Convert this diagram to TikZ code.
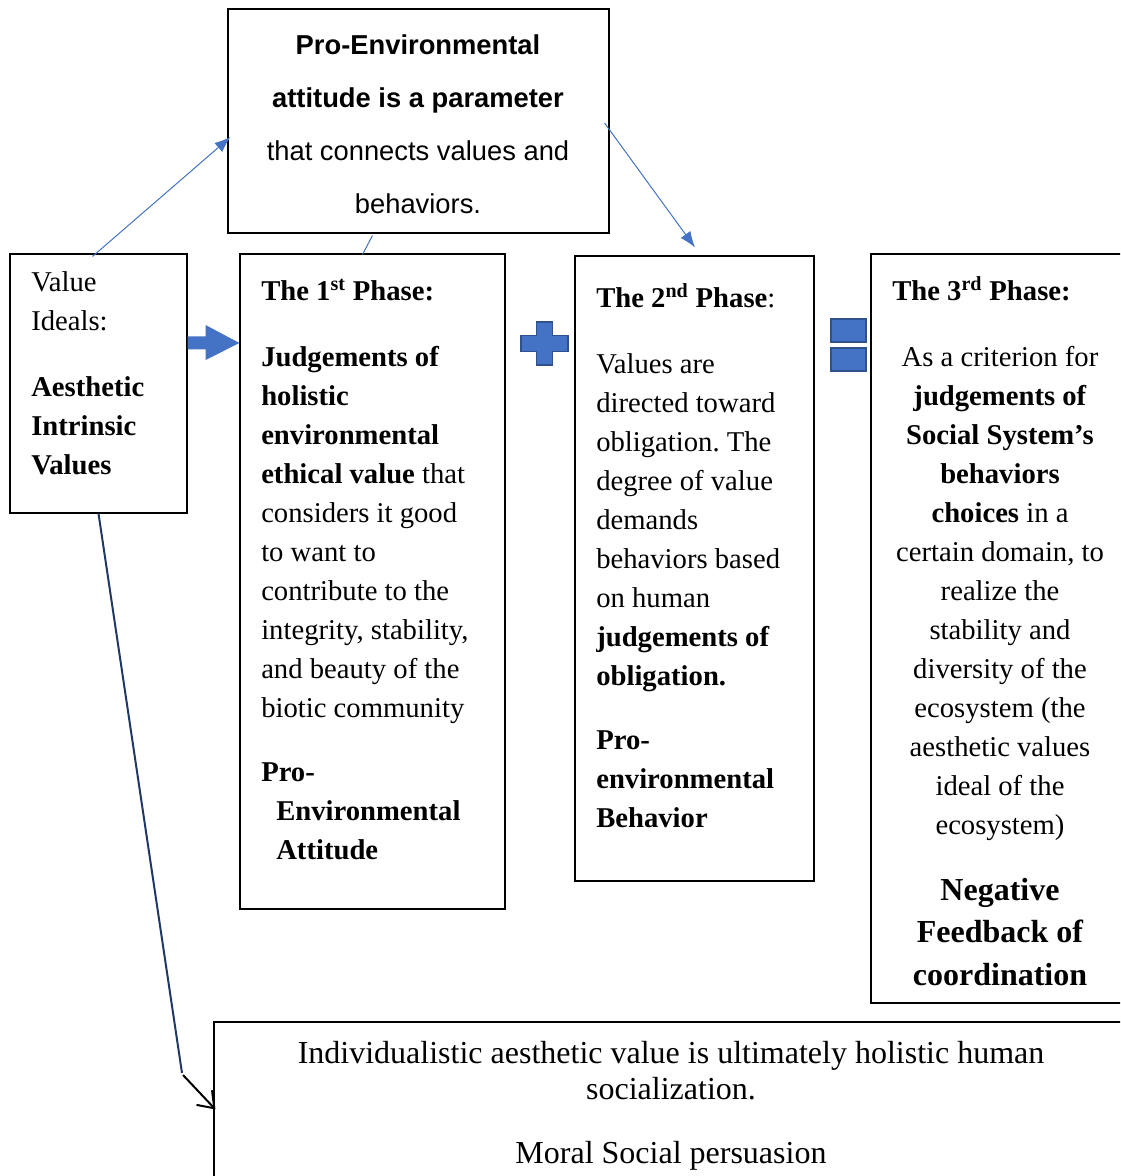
\documentclass[tikz,border=0pt]{standalone}
\usepackage{fontspec}
\setmainfont{Liberation Serif}
\newfontfamily\topfont{Liberation Sans}
\usetikzlibrary{arrows.meta,calc,fit}
\definecolor{accblue}{HTML}{4472C4}
\definecolor{accdark}{HTML}{2F528F}
\definecolor{navyline}{HTML}{1F3864}
\frenchspacing
\begin{document}
\begin{tikzpicture}[x=0.75pt,y=-0.75pt,
  box/.style={draw=black,line width=0.8pt,inner sep=0pt},
  body/.style={font=\fontsize{21.5}{29.25}\selectfont,inner sep=0pt},
  bodyl/.style={body,align=left,anchor=north west},
  bodyc/.style={body,align=center,anchor=north},
  bigc/.style={font=\fontsize{24}{31.9}\selectfont\bfseries,inner sep=0pt,align=center,anchor=north},
  bottxt/.style={font=\fontsize{24}{27}\selectfont,inner sep=0pt,align=center,anchor=north},
  toptxt/.style={font=\topfont\fontsize{20.5}{39.75}\selectfont,inner sep=0pt,align=center,anchor=north},
  thinarrow/.style={accblue,line width=0.75pt,-{Latex[length=12pt,width=9pt]}},
  shapefill/.style={fill=accblue,draw=accdark,line width=1.2pt}]
\useasboundingbox (0,0) rectangle (1120,1176);
\clip (0,0) rectangle (1120,1176);

% boxes
\node[box,fit={(228,9) (609,233)}] (topbox) {};
\node[box,fit={(10,254) (187,513)}] (vbox) {};
\node[box,fit={(240,254) (505,909)}] (p1box) {};
\node[box,fit={(575,256) (814,881)}] (p2box) {};
\node[box,fit={(871,254) (1130,1003)}] (p3box) {};
\node[box,fit={(214,1022) (1130,1200)}] (botbox) {};

% top box text
\node[toptxt] (toptext) at (418,17) {\strut\textbf{Pro-Environmental}\\\textbf{attitude is a parameter}\\that connects values and\\behaviors.};

% value box
\node[bodyl] (vtext1) at (31,264) {\strut Value\\Ideals:};
\node[bodyl,font=\fontsize{21.5}{29.25}\selectfont\bfseries] (vtext2) at (31,369) {\strut Aesthetic\\Intrinsic\\Values};

% phase 1
\node[bodyl] (p1title) at (261,273) {\strut\textbf{The 1\textsuperscript{st} Phase:}};
\node[bodyl] (p1body) at (261,339) {\strut\textbf{Judgements of}\\\textbf{holistic}\\\textbf{environmental}\\\textbf{ethical value} that\\considers it good\\to want to\\contribute to the\\integrity, stability,\\and beauty of the\\biotic community};
\node[bodyl,font=\fontsize{21.5}{29.25}\selectfont\bfseries] (p1end) at (261,754) {\strut Pro-\\\hspace*{11.25pt}Environmental\\\hspace*{11.25pt}Attitude};

% phase 2
\node[bodyl] (p2title) at (596,280) {\strut\textbf{The 2\textsuperscript{nd} Phase}:};
\node[bodyl] (p2body) at (596,346) {\strut Values are\\directed toward\\obligation. The\\degree of value\\demands\\behaviors based\\on human\\\textbf{judgements of}\\\textbf{obligation.}};
\node[bodyl,font=\fontsize{21.5}{29.25}\selectfont\bfseries] (p2end) at (596,722) {\strut Pro-\\environmental\\Behavior};

% phase 3
\node[bodyl] (p3title) at (892,273) {\strut\textbf{The 3\textsuperscript{rd} Phase:}};
\node[bodyc] (p3body) at (1000,339) {\strut As a criterion for\\\textbf{judgements of}\\\textbf{Social System’s}\\\textbf{behaviors}\\\textbf{choices} in a\\certain domain, to\\realize the\\stability and\\diversity of the\\ecosystem (the\\aesthetic values\\ideal of the\\ecosystem)};
\node[bigc] (p3end) at (1000,870) {\strut Negative\\Feedback of\\coordination};

% bottom box
\node[bottxt] (bottext) at (671,1038) {\strut Individualistic aesthetic value is ultimately holistic human\\socialization.\\[21pt]Moral Social persuasion};

% thin connectors
\draw[thinarrow] ($(vbox.north)+(-6,3)$) -- ($(topbox.west)+(3,16)$);
\draw[accblue,line width=0.75pt] ($(topbox.south)+(-46,2)$) -- ($(p1box.north)+(-10,1)$);
\draw[thinarrow] ($(topbox.east)+(-5,2)$) -- ($(p2box.north)+(0.5,-8)$);

% block arrow
\coordinate (ba) at ($(vbox.east)+(0,-40.5)$);
\fill[accblue] ($(ba)+(0,-6.5)$) -- ($(ba)+(18,-6.5)$) -- ($(ba)+(18,-18)$) -- (p1box.west |- ba) -- ($(ba)+(18,17)$) -- ($(ba)+(18,6.5)$) -- ($(ba)+(0,6.5)$) -- cycle;

% plus sign
\coordinate (pc) at (544.5,343.5);
\filldraw[shapefill] (pc) ++(-8,-21.5) -- ++(16,0) -- ++(0,13.5) -- ++(15.5,0) -- ++(0,16) -- ++(-15.5,0) -- ++(0,13.5) -- ++(-16,0) -- ++(0,-13.5) -- ++(-15.5,0) -- ++(0,-16) -- ++(15.5,0) -- cycle;

% equals sign
\filldraw[shapefill] (831,319) rectangle (866,342);
\filldraw[shapefill] (831,348) rectangle (866,371);

% bottom connector
\coordinate (bend) at (182,1073);
\draw[navyline,line width=1.5pt] (vbox.south) -- (bend);
\draw[black,line width=1.5pt,-{Straight Barb[length=11pt,width=16pt]}] ($(bend)+(1,2)$) -- ($(botbox.north west)+(2,88)$);
\end{tikzpicture}
\end{document}
